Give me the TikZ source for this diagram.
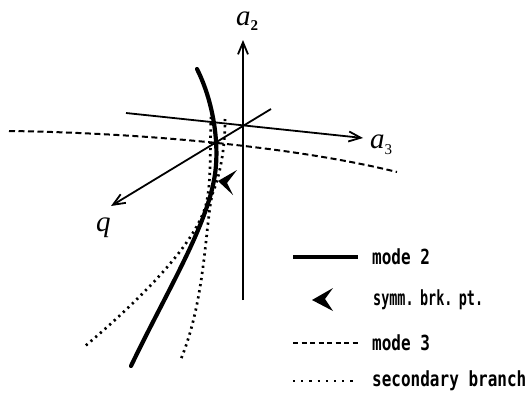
\documentclass[tikz,border=0pt]{standalone}
\usepackage{fontspec}
\setmainfont{Liberation Serif}
\newfontfamily\legfont{DejaVu Sans Mono}
\usetikzlibrary{arrows.meta}
\begin{document}
\begin{tikzpicture}[x=1pt,y=-1pt]
\tikzset{
 axis/.style={line width=1.8pt, -{Straight Barb[length=12pt,width=10pt,line width=1.8pt]}},
 modetwo/.style={line width=4.2pt, line cap=round},
 modethree/.style={line width=2pt, dash pattern=on 6pt off 3.5pt},
 secbranch/.style={line width=2.7pt, dash pattern=on 2.2pt off 4pt},
 legtext/.style={anchor=west, font=\legfont\bfseries\fontsize{16}{16}\selectfont, inner sep=0pt},
 brkpt/.style={fill=black, draw=none},
 axlabel/.style={font=\fontsize{29}{29}\selectfont\itshape, inner sep=0pt, anchor=base west}
}
\useasboundingbox (0,0) rectangle (529,399);

% coordinates
\coordinate (O) at (243,124);
\coordinate (a2b) at (243,300);
\coordinate (a2t) at (243,40);
\coordinate (a3b) at (126,113);
\coordinate (a3t) at (363,138);
\coordinate (qb) at (271,109);
\coordinate (qt) at (111,206);

% mode 3 (dashed)
\coordinate (m3a) at (9,131);
\coordinate (m3b) at (397,172);
\draw[modethree] (m3a) .. controls (150,133) and (300,148) .. (m3b);

% secondary branches (dotted)
\coordinate (s1a) at (211,117);
\coordinate (s1m) at (207,200);
\coordinate (s1b) at (84,347);
\draw[secbranch] (s1a) .. controls (210,150) and (211,180) .. (s1m) .. controls (200,240) and (140,300) .. (s1b);
\coordinate (s2a) at (225,119);
\coordinate (s2m) at (212,195);
\coordinate (s2b) at (181,359);
\draw[secbranch] (s2a) .. controls (225,150) and (220,175) .. (s2m) .. controls (205,230) and (205,300) .. (s2b);

% axes
\draw[axis] (a2b) -- (a2t);
\draw[axis] (a3b) -- (a3t);
\draw[axis] (qb) -- (qt);

% mode 2 (thick)
\coordinate (m2a) at (197,69);
\coordinate (m2m) at (214,180);
\coordinate (m2b) at (131,366);
\draw[modetwo] (m2a) .. controls (215,105) and (220,150) .. (m2m) .. controls (205,230) and (165,295) .. (m2b);

% symmetry breaking point
\fill[brkpt] (218,181) -- (237,170) -- (227,183) -- (233,195) -- cycle;

% axis labels
\node[axlabel] (la2) at (236,25) {a\raisebox{-5pt}{\fontsize{15}{15}\selectfont\upshape\bfseries 2}};
\node[axlabel] (la3) at (370,148) {a\raisebox{-6pt}{\fontsize{15}{15}\selectfont\upshape 3}};
\node[axlabel] (lq) at (96,231) {q};

% legend
\coordinate (l1a) at (293,257); \coordinate (l1b) at (358,257);
\draw[line width=4pt] (l1a) -- (l1b);
\node[legtext] (t1) at (372,257) {\scalebox{1.0}[1.3]{mode 2}};

\fill[brkpt] (312,300) -- (333,288) -- (325,299) -- (333,311) -- cycle;
\node[legtext] (t2) at (373,300) {\scalebox{0.84}[1.3]{symm.\kern-2pt\ brk.\kern-2pt\ pt.}};

\coordinate (l3a) at (293,343); \coordinate (l3b) at (358,343);
\draw[line width=2pt, dash pattern=on 5pt off 3.5pt] (l3a) -- (l3b);
\node[legtext] (t3) at (372,343) {\scalebox{1.0}[1.3]{mode 3}};

\coordinate (l4a) at (293,381); \coordinate (l4b) at (358,381);
\draw[line width=2.4pt, dash pattern=on 2.2pt off 6pt] (l4a) -- (l4b);
\node[legtext] (t4) at (372,381) {\scalebox{1.0}[1.3]{secondary branch}};
\end{tikzpicture}
\end{document}
